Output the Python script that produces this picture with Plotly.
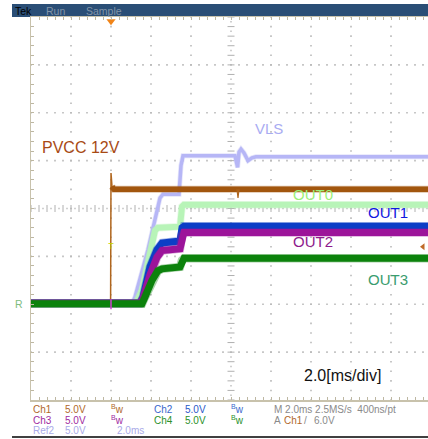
import plotly.graph_objects as go

# ---------------- data (time in ms from trigger, volts; every channel 5 V/div) -------------
pvcc_t = [-4.0, -0.02, 0.0, 0.05, 0.15, 15.85]
pvcc_v = [0.0, 0.0, 13.7, 12.3, 12.0, 12.0]
pvcc_spike_t = [6.30, 6.35, 6.40]
pvcc_spike_v = [12.0, 11.1, 12.0]

vls_t = [-4.0, 1.10, 1.20, 1.85, 2.45, 2.60, 3.40, 3.50, 3.60, 6.20, 6.33, 6.40,
         6.50, 6.65, 6.85, 7.05, 7.25, 15.85]
vls_v = [0.3, 0.3, 0.75, 5.7, 11.1, 11.5, 11.5, 14.5, 15.5, 15.5, 14.3, 15.9,
         16.2, 15.8, 15.0, 15.3, 15.4, 15.4]

out0_t = [-4.0, 1.25, 1.55, 1.95, 2.20, 2.35, 3.45, 3.55, 3.65, 15.85]
out0_v = [0.1, 0.1, 1.5, 5.1, 7.7, 8.0, 8.1, 10.2, 10.4, 10.4]

out1_t = [-4.0, 1.45, 1.60, 1.95, 2.30, 2.55, 3.45, 3.55, 3.65, 15.85]
out1_v = [0.1, 0.1, 0.75, 3.9, 5.7, 6.4, 6.6, 8.0, 8.15, 8.15]

out2_t = [-4.0, 1.45, 1.60, 1.95, 2.30, 2.55, 3.45, 3.55, 3.65, 15.85]
out2_v = [0.1, 0.1, 0.6, 3.1, 4.9, 5.6, 5.8, 7.2, 7.5, 7.5]

out3_t = [-4.0, 1.55, 1.70, 2.05, 2.35, 2.55, 3.45, 3.55, 3.65, 15.85]
out3_v = [0.05, 0.05, 0.75, 2.5, 3.5, 3.7, 3.9, 4.6, 4.8, 4.8]

trigger_level_v = 6.0

status_row1 = [("Ch1", "#b0682a"), ("5.0V", "#b0682a"), ("<sup>B</sup>w", "#b0682a"),
               ("Ch2", "#3a68cc"), ("5.0V", "#2a58c8"), ("<sup>B</sup>w", "#3a68cc"),
               ("M 2.0ms 2.5MS/s  400ns/pt", "#8a8a8a")]
status_row2 = [("Ch3", "#a02aa0"), ("5.0V", "#a02aa0"), ("<sup>B</sup>w", "#a02aa0"),
               ("Ch4", "#2a902a"), ("5.0V", "#2a902a"), ("<sup>B</sup>w", "#2a902a"),
               ("A", "#8a8a8a"), ("Ch1", "#b0682a"), ("/", "#8a8a8a"), ("6.0V", "#8a8a8a")]
status_row3 = [("Ref2", "#aaaae8"), ("5.0V", "#aaaae8"), ("2.0ms", "#aaaae8")]

# ---------------- layout geometry helpers ----------------
W, H = 428, 439
L, R, T, B = 31, 0, 17, 39
PW, PH = W - L - R, H - T - B


def px(x):
    return (x - L) / PW


def py(y):
    return (H - B - y) / PH


T0, T1 = -4.0, -4.0 + PW / 20.0   # 2 ms/div, 40 px/div
V0, V1 = -10.0, 30.0             # 5 V/div, 8 div

fig = go.Figure()

# ---------------- graticule dots ----------------
gx, gy = [], []
for k in range(1, 10):
    t = -4 + 2 * k
    if t == 6:
        continue
    for j in range(41):
        gx.append(t)
        gy.append(-10 + j)
for k in range(1, 8):
    v = -10 + 5 * k
    if v == 10:
        continue
    for j in range(51):
        gx.append(-4 + 0.4 * j)
        gy.append(v)
fig.add_trace(go.Scatter(x=gx, y=gy, mode="markers", hoverinfo="skip",
                         marker=dict(symbol="square", size=1.6, color="#b9b9b9",
                                     line=dict(width=0))))
# centre cross with ticks
cx = [-4 + 0.4 * j for j in range(51)]
fig.add_trace(go.Scatter(x=cx, y=[10] * len(cx), mode="markers", hoverinfo="skip",
                         marker=dict(symbol="line-ns", size=5, color="#b0b0b0",
                                     line=dict(width=1, color="#b0b0b0"))))
cx2 = [-3.8 + 0.4 * j for j in range(50)]
fig.add_trace(go.Scatter(x=cx2, y=[10] * len(cx2), mode="markers", hoverinfo="skip",
                         marker=dict(symbol="square", size=1.5, color="#c0c0c0",
                                     line=dict(width=0))))
cy = [-10 + 1 * j for j in range(41)]
fig.add_trace(go.Scatter(x=[6] * len(cy), y=cy, mode="markers", hoverinfo="skip",
                         marker=dict(symbol="line-ew", size=5, color="#b0b0b0",
                                     line=dict(width=1, color="#b0b0b0"))))
cy2 = [-9.5 + 1 * j for j in range(40)]
fig.add_trace(go.Scatter(x=[6] * len(cy2), y=cy2, mode="markers", hoverinfo="skip",
                         marker=dict(symbol="square", size=1.5, color="#c0c0c0",
                                     line=dict(width=0))))


def band(t, v, color, width, fuzz=None):
    if fuzz:
        fig.add_trace(go.Scatter(x=t, y=v, mode="lines", hoverinfo="skip",
                                 line=dict(color=color, width=width + fuzz),
                                 opacity=0.35))
    fig.add_trace(go.Scatter(x=t, y=v, mode="lines", hoverinfo="skip",
                             line=dict(color=color, width=width)))


# ---------------- waveforms ----------------
band(vls_t, vls_v, "#b6b6f6", 3.5, 1.5)
band(out0_t, out0_v, "#b8f4b8", 6, 1.5)
# PVCC: thin step edge + thick plateau + thin glitch
fig.add_trace(go.Scatter(x=pvcc_t, y=pvcc_v, mode="lines", hoverinfo="skip",
                         line=dict(color="#b0661e", width=1.5)))
band(pvcc_t[3:], pvcc_v[3:], "#a2560e", 5.5, 1.5)
fig.add_trace(go.Scatter(x=pvcc_spike_t, y=pvcc_spike_v, mode="lines", hoverinfo="skip",
                         line=dict(color="#b0661e", width=1.2)))
band(out1_t, out1_v, "#0c3ec6", 7, 1.5)
band(out2_t, out2_v, "#9c149a", 7, 1.5)
band(out3_t, out3_v, "#0c820c", 7, 1.5)

# markers: trigger position, trigger level, ground refs
fig.add_trace(go.Scatter(x=[0], y=[V1 - 0.45], mode="markers", hoverinfo="skip", cliponaxis=False,
                         marker=dict(symbol="triangle-down", size=8, color="#f08418",
                                     line=dict(width=0))))
fig.add_trace(go.Scatter(x=[T1 - 0.25], y=[trigger_level_v], mode="markers", hoverinfo="skip",
                         cliponaxis=False,
                         marker=dict(symbol="triangle-left", size=6, color="#c06a28",
                                     line=dict(width=0))))
fig.add_trace(go.Scatter(x=[0], y=[trigger_level_v], mode="text", text=["T"], hoverinfo="skip",
                         textfont=dict(size=9, color="#c8d400", family="Liberation Sans")))
fig.add_trace(go.Scatter(x=[0], y=[0], mode="markers", hoverinfo="skip",
                         marker=dict(symbol="line-ns", size=7, color="#d040d0",
                                     line=dict(width=1.5, color="#d040d0"))))
fig.add_trace(go.Scatter(x=[T0 - 0.22], y=[0], mode="markers", hoverinfo="skip", cliponaxis=False,
                         marker=dict(symbol="triangle-right", size=7, color="#e08a30",
                                     line=dict(width=0))))

# ---------------- annotations ----------------
ann = []


def txt(x, y, s, color, size, family="Liberation Sans", anchor="left"):
    ann.append(dict(x=px(x), y=py(y), xref="paper", yref="paper", text=s, showarrow=False,
                    xanchor=anchor, yanchor="middle",
                    font=dict(color=color, size=size, family=family)))


txt(40, 147, "PVCC 12V", "#a84a14", 16)
txt(253, 128, "VLS", "#a9acf2", 15)
txt(291, 194, "OUT0", "#9cf078", 15)
txt(366, 212, "OUT1", "#1018e0", 15)
txt(291, 241, "OUT2", "#8e1a8c", 15)
txt(366, 279, "OUT3", "#3a9c6e", 15)
txt(302, 375, "2.0[ms/div]", "#111111", 16)
txt(13, 304, "R", "#80bc80", 10.5)

# title bar text
txt(13, 10.5, "Tek", "#000000", 10.5)
txt(44, 10.5, "Run", "#8294a8", 10.5)
txt(84, 10.5, "Sample", "#8294a8", 10.5)

# status area
row1_x = [31, 63, 109, 152, 183, 229, 272]
row2_x = [31, 63, 109, 152, 183, 229, 272, 282, 302, 312]
row3_x = [31, 63, 115]
for (s, c), x in zip(status_row1, row1_x):
    txt(x, 409, s, c, 10)
for (s, c), x in zip(status_row2, row2_x):
    txt(x, 420, s, c, 10)
for (s, c), x in zip(status_row3, row3_x):
    txt(x, 430, s, c, 10)

shapes = [
    dict(type="rect", xref="paper", yref="paper", x0=px(12), x1=px(W), y0=py(17), y1=py(4),
         fillcolor="#2a4e76", line=dict(width=0), layer="below"),
    dict(type="line", xref="paper", yref="paper", x0=px(12), x1=px(W), y0=py(437), y1=py(437),
         line=dict(color="#000000", width=1.5)),
]

axis_common = dict(showgrid=False, zeroline=False, showticklabels=False, showline=True,
                   linecolor="#c8c2ac", linewidth=1.5, ticks="inside", ticklen=3,
                   tickwidth=1, tickcolor="#bdb7a2")

fig.update_layout(
    width=W, height=H, margin=dict(l=L, r=R, t=T, b=B, pad=0),
    paper_bgcolor="white", plot_bgcolor="white", showlegend=False,
    xaxis=dict(range=[T0, T1], tick0=-4, dtick=0.4, mirror="ticks", **axis_common),
    yaxis=dict(range=[V0, V1], tick0=-10, dtick=1, mirror=False, **axis_common),
    annotations=ann, shapes=shapes,
)

fig.write_html("out.html", config={"displayModeBar": False, "staticPlot": True},
               post_script="document.body.style.margin='0';document.body.style.overflow='hidden';")
